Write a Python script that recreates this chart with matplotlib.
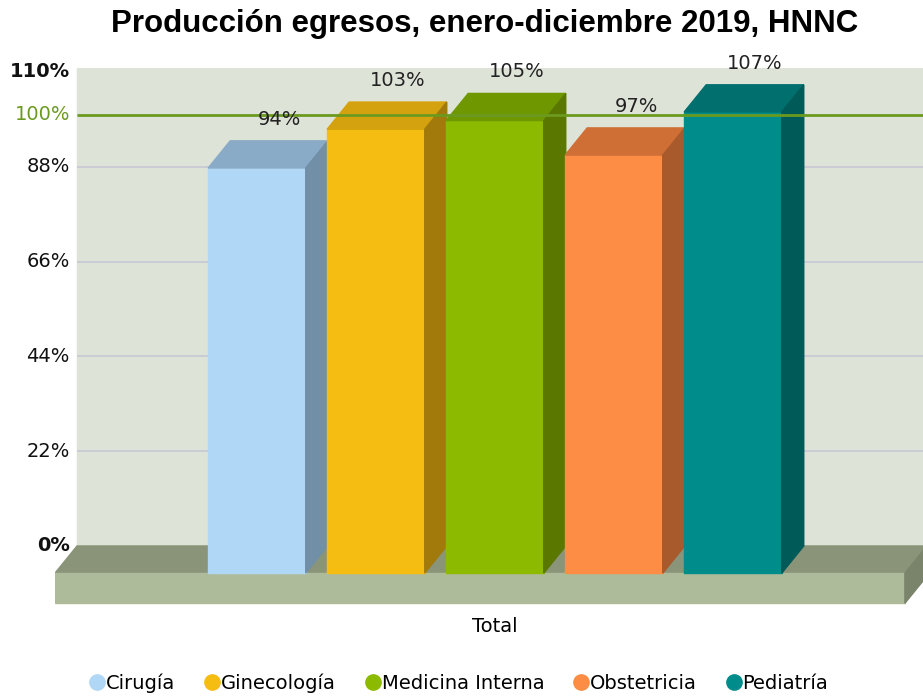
import os
import matplotlib.pyplot as plt
from matplotlib import font_manager
from matplotlib.patches import Polygon, Rectangle
from matplotlib.lines import Line2D

# chart data
categories = ['Cirugía', 'Ginecología', 'Medicina Interna', 'Obstetricia', 'Pediatría']
values = [94, 103, 105, 97, 107]
value_labels = ['94%', '103%', '105%', '97%', '107%']
ytick_values = [0, 22, 44, 66, 88, 100, 110]
goal = 100

# colours: front, top and side faces of each bar
front_colors = ['#b0d7f5', '#f5bc12', '#8cba00', '#fd8d44', '#008c8a']
top_colors = ['#8aabc8', '#d4a20f', '#6f9700', '#cf6f35', '#006f6e']
side_colors = ['#7190a8', '#a27a0c', '#5a7800', '#a85a2c', '#005a58']

# find the plain (not narrow) Liberation Sans Bold file for the title
title_font = font_manager.FontProperties(family='DejaVu Sans', weight='bold', size=18)
for f in font_manager.fontManager.ttflist:
    if os.path.basename(f.fname).lower() == 'liberationsans-bold.ttf':
        title_font = font_manager.FontProperties(fname=f.fname, size=22.5)
        break

fig = plt.figure(figsize=(9.23, 6.98), dpi=100)
ax = fig.add_axes([55 / 923, 93 / 698, 868 / 923, 537 / 698])
xmin, xmax = -1.697, 5.597
ymin, ymax = -13.7, 110.9
ax.set_xlim(xmin, xmax)
ax.set_ylim(ymin, ymax)
ax.axis('off')

# fake 3d depth offsets and bar width
dx = 0.185
dy = 6.3
w = 0.82
thick = 7.0
floor_right = 5.445

# back wall
ax.add_patch(Rectangle((xmin + dx, 0), xmax - xmin - dx, ymax, color='#dee3d8', zorder=0))
ax.hlines([22, 44, 66, 88], xmin + dx, xmax, color='#c8c8d2', lw=1.2, zorder=1)

# floor
ax.add_patch(Polygon([(xmin, -dy), (floor_right, -dy), (floor_right + dx, 0), (xmin + dx, 0)],
                     closed=True, color='#8a9479', zorder=2))
ax.add_patch(Rectangle((xmin, -dy - thick), floor_right - xmin, thick, color='#aebb9b', zorder=2))
ax.add_patch(Polygon([(floor_right, -dy), (floor_right + dx, 0), (floor_right + dx, -thick),
                      (floor_right, -dy - thick)], closed=True, color='#7a846b', zorder=2))

# bars
for i, v in enumerate(values):
    l = i - w / 2
    r = i + w / 2
    ax.add_patch(Rectangle((l, -dy), w, v, color=front_colors[i], zorder=3))
    ax.add_patch(Polygon([(l, v - dy), (r, v - dy), (r + dx, v), (l + dx, v)],
                         closed=True, color=top_colors[i], zorder=3))
    ax.add_patch(Polygon([(r, -dy), (r + dx, 0), (r + dx, v), (r, v - dy)],
                         closed=True, color=side_colors[i], zorder=3))
    ax.text(i + dx, v + 2.8, value_labels[i], ha='center', va='bottom', fontsize=14,
            color='#222222', zorder=6)

# target line
ax.hlines(goal, xmin + dx, xmax, color='#6b9a1f', lw=2, zorder=5)

# y tick labels
for t in ytick_values:
    color = '#6b9a1f' if t == goal else '#111111'
    weight = 'bold' if t in (0, 110) else 'normal'
    ax.text(xmin + dx - 0.06, t, f'{t}%', ha='right', va='center', fontsize=14,
            color=color, fontweight=weight)

fig.text(485 / 923, 1 - 24 / 698, 'Producción egresos, enero-diciembre 2019, HNNC',
         ha='center', va='center', fontproperties=title_font)
fig.text(495 / 923, 1 - 627 / 698, 'Total', ha='center', va='center', fontsize=14)

handles = [Line2D([], [], marker='o', ls='none', markersize=11, color=c) for c in front_colors]
fig.legend(handles, categories, loc='center', bbox_to_anchor=(459 / 923, 1 - 683 / 698),
           ncol=5, frameon=False, handletextpad=0.05, columnspacing=1.5, handlelength=0.8,
           fontsize=14)

fig.savefig('out.png', dpi=100)
